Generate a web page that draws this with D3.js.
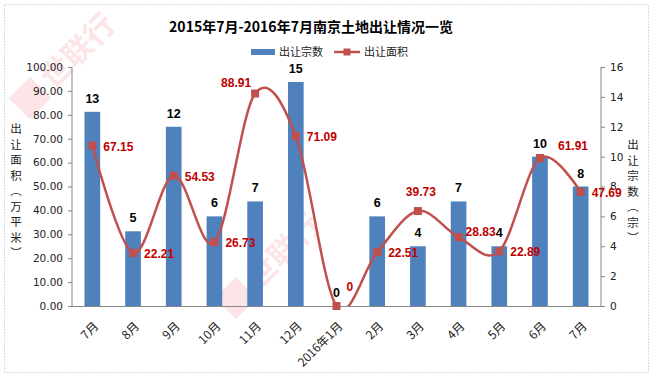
<!DOCTYPE html>
<html><head><meta charset="utf-8">
<script src="https://cdn.jsdelivr.net/npm/d3@7"></script>
<style>
html,body{margin:0;padding:0;background:#fff;}
svg{display:block;}
</style></head>
<body>
<svg id="chart" width="653" height="377"></svg>
<script>
const categories = ["7月","8月","9月","10月","11月","12月","2016年1月","2月","3月","4月","5月","6月","7月"];
const dealCounts = [13,5,12,6,7,15,0,6,4,7,4,10,8];
const dealAreas = [67.15,22.21,54.53,26.73,88.91,71.09,0,22.51,39.73,28.83,22.89,61.91,47.69];
const leftTicks = [0,10,20,30,40,50,60,70,80,90,100];
const rightTicks = [0,2,4,6,8,10,12,14,16];
const titleText = "2015年7月-2016年7月南京土地出让情况一览";
const seriesNames = ["出让宗数","出让面积"];

const W = 653, H = 377;
const m = {l:72, r:601, t:67, b:306};
const svg = d3.select("#chart");
const cjk = "'Noto Sans CJK SC','Noto Sans',sans-serif";
const num = "'DejaVu Sans',sans-serif";
const lab = "'Liberation Sans',Arial,sans-serif";
const blue = "#4F81BD", red = "#C0504D", labRed = "#C00000", axisCol = "#868686";

svg.append("rect").attr("x",4.5).attr("y",4.5).attr("width",W-9).attr("height",H-9)
  .attr("fill","#fff").attr("stroke","#c8d0dc").attr("stroke-dasharray","1.5,1.5");

// watermarks
function watermark(cx, cy) {
  const g = svg.append("g").attr("transform",`translate(${cx},${cy}) rotate(-45)`).attr("opacity",0.16);
  g.append("rect").attr("x",-15).attr("y",-15).attr("width",30).attr("height",30).attr("fill","#f06070");
  g.append("text").attr("x",22).attr("y",11).attr("font-family",cjk).attr("font-size",30)
    .attr("font-weight","bold").attr("fill","#f06070").text("世联行");
}
watermark(30, 98);
watermark(236, 298);

const x = d3.scaleBand().domain(d3.range(categories.length)).range([m.l, m.r])
  .paddingInner(0.615).paddingOuter(0.3075);
const yL = d3.scaleLinear().domain([0,100]).range([m.b, m.t]);
const yR = d3.scaleLinear().domain([0,16]).range([m.b, m.t]);
const cx = i => x(i) + x.bandwidth()/2;

// title
svg.append("text").attr("x",311).attr("y",32).attr("text-anchor","middle")
  .attr("font-family",cjk).attr("font-weight","bold").attr("font-size",14).attr("fill","#000").text(titleText);

// legend
const lg = svg.append("g").attr("font-family",cjk).attr("font-size",11).attr("fill","#222");
lg.append("rect").attr("x",251).attr("y",49).attr("width",24).attr("height",6).attr("fill",blue);
lg.append("text").attr("x",279).attr("y",56).text(seriesNames[0]);
lg.append("line").attr("x1",334).attr("x2",360).attr("y1",52).attr("y2",52).attr("stroke",red).attr("stroke-width",2.5);
lg.append("rect").attr("x",343.5).attr("y",48.5).attr("width",7).attr("height",7).attr("fill",red);
lg.append("text").attr("x",364).attr("y",56).text(seriesNames[1]);

// axes
const axL = d3.axisLeft(yL).tickValues(leftTicks).tickSize(4).tickPadding(5).tickFormat(d3.format(".2f"));
const axR = d3.axisRight(yR).tickValues(rightTicks).tickSize(4).tickPadding(5);
const gL = svg.append("g").attr("transform",`translate(${m.l},0)`).call(axL);
const gR = svg.append("g").attr("transform",`translate(${m.r},0)`).call(axR);
[gL,gR].forEach(g=>{
  g.selectAll("path,line").attr("stroke",axisCol);
  g.selectAll("text").attr("font-family",num).attr("font-size",10.5).attr("fill","#222");
});
gL.select(".domain").attr("d",`M0,${m.t}V${m.b}`);
gR.select(".domain").attr("d",`M0,${m.t}V${m.b}`);

// bars
svg.append("g").selectAll("rect").data(dealCounts).join("rect")
  .attr("x",(d,i)=>x(i)).attr("width",x.bandwidth())
  .attr("y",d=>yR(d)).attr("height",d=>m.b-yR(d)).attr("fill",blue);

// x axis line
svg.append("line").attr("x1",m.l).attr("x2",m.r).attr("y1",m.b+0.5).attr("y2",m.b+0.5).attr("stroke",axisCol);

// x labels
svg.append("g").selectAll("text").data(categories).join("text")
  .attr("transform",(d,i)=>`translate(${cx(i)+4},${m.b+18}) rotate(-45)`)
  .attr("text-anchor","end").attr("dy","0.35em")
  .attr("font-family",cjk).attr("font-size",12).attr("fill","#222").text(d=>d);

// axis titles (vertical stacked)
function vtitle(chars, xPos, yStart, step) {
  const g = svg.append("g").attr("font-family",cjk).attr("font-size",11.5).attr("fill","#222");
  chars.forEach((c,i)=>g.append("text").attr("x",xPos).attr("y",yStart+i*step).attr("text-anchor","middle").text(c));
}
vtitle(["出","让","面","积","︵","万","平","米","︶"], 16, 133, 15.5);
vtitle(["出","让","宗","数","︵","宗","︶"], 633, 149, 15.5);

// line (smoothed) clipped to plot area
svg.append("clipPath").attr("id","plotclip").append("rect")
  .attr("x",m.l).attr("y",m.t-20).attr("width",m.r-m.l).attr("height",m.b-m.t+20);
const line = d3.line().x((d,i)=>cx(i)).y(d=>yL(d)).curve(d3.curveCardinal.tension(0));
svg.append("path").datum(dealAreas).attr("d",line).attr("fill","none")
  .attr("stroke",red).attr("stroke-width",2.5).attr("clip-path","url(#plotclip)");
svg.append("g").selectAll("rect").data(dealAreas).join("rect")
  .attr("x",(d,i)=>cx(i)-4).attr("y",d=>yL(d)-4).attr("width",8).attr("height",8).attr("fill",red);

// count labels
svg.append("g").selectAll("text").data(dealCounts).join("text")
  .attr("x",(d,i)=>cx(i)).attr("y",d=>yR(d)-9).attr("text-anchor","middle")
  .attr("font-family",lab).attr("font-weight","bold").attr("font-size",12.5).attr("fill","#000")
  .text(d=>d);

// area labels
const placement = ["r","r","r","r","tl","r","r0","r","t","r2","r","tr","r"];
function lpos(p){
  switch(p){
    case "tl": return {dx:-4, dy:-11, a:"end"};
    case "t": return {dx:3, dy:-19, a:"middle"};
    case "tr": return {dx:18, dy:-12, a:"start"};
    case "r0": return {dx:10, dy:-19, a:"start"};
    case "r2": return {dx:7, dy:-5, a:"start"};
    default: return {dx:11, dy:1, a:"start"};
  }
}
svg.append("g").selectAll("text").data(dealAreas).join("text")
  .each(function(d,i){
    const p = lpos(placement[i]);
    d3.select(this).attr("x",cx(i)+p.dx).attr("y",yL(d)+p.dy).attr("text-anchor",p.a);
  })
  .attr("dy","0.35em")
  .attr("font-family",lab).attr("font-weight","bold").attr("font-size",12).attr("fill",labRed)
  .text(d=>d===0?"0":d.toFixed(2));
</script>
</body></html>
